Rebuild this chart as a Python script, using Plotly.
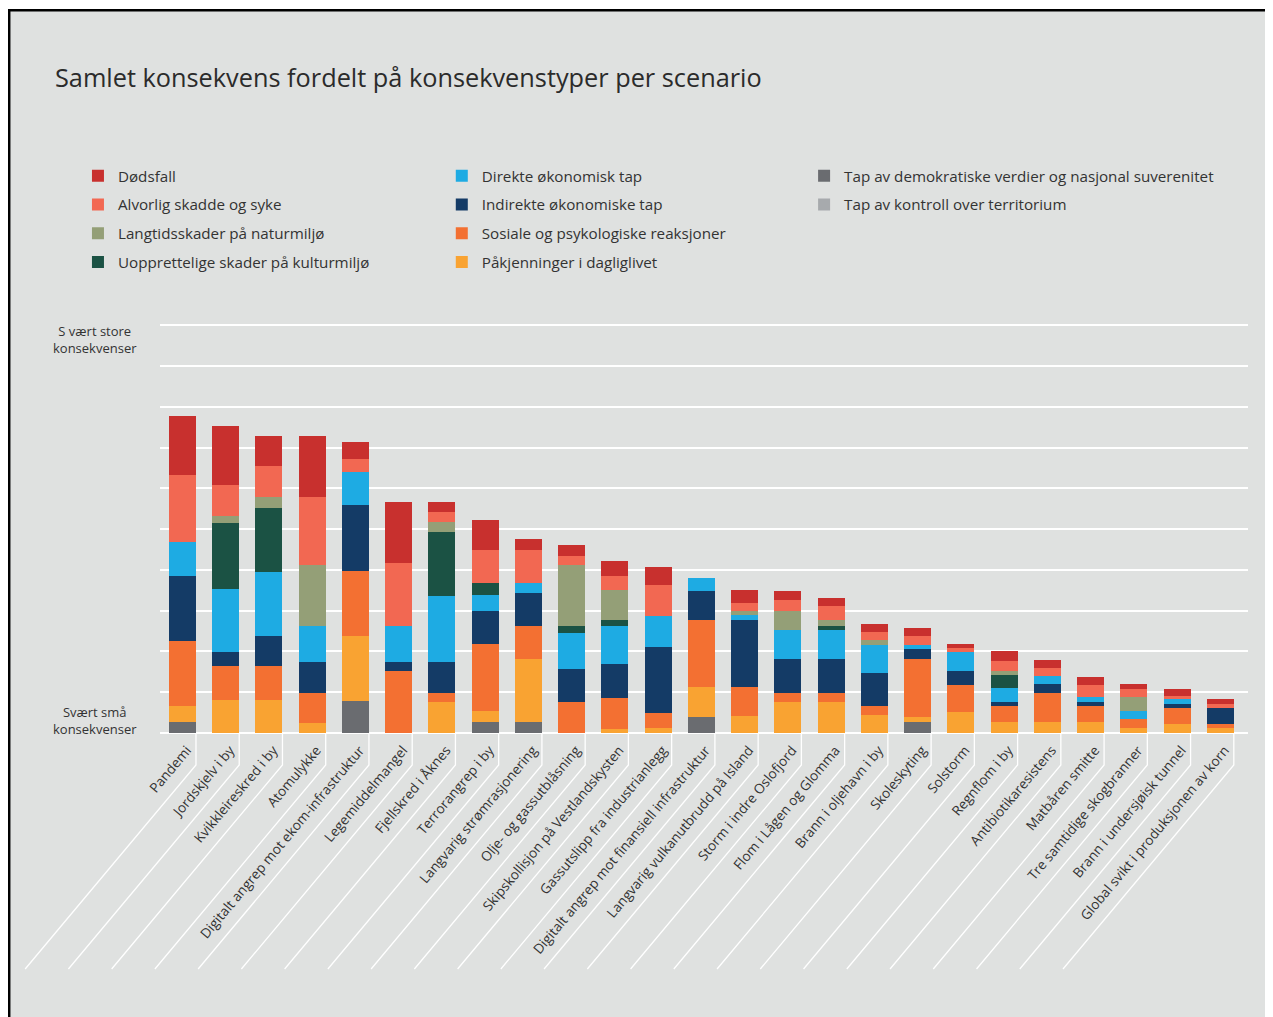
import plotly.graph_objects as go

scenarios = [
    "Pandemi", "Jordskjelv i by", "Kvikkleireskred i by", "Atomulykke",
    "Digitalt angrep mot ekom-infrastruktur", "Legemiddelmangel", "Fjellskred i Åknes",
    "Terrorangrep i by", "Langvarig strømrasjonering", "Olje- og gassutblåsning",
    "Skipskollisjon på Vestlandskysten", "Gassutslipp fra industrianlegg",
    "Digitalt angrep mot finansiell infrastruktur", "Langvarig vulkanutbrudd på Island",
    "Storm i indre Oslofjord", "Flom i Lågen og Glomma", "Brann i oljehavn i by",
    "Skoleskyting", "Solstorm", "Regnflom i by", "Antibiotikaresistens",
    "Matbåren smitte", "Tre samtidige skogbranner", "Brann i undersjøisk tunnel",
    "Global svikt i produksjonen av korn",
]

territorium = [0] * 25
demokrati = [0.28, 0, 0, 0, 0.79, 0, 0, 0.28, 0.28, 0, 0, 0, 0.40, 0, 0, 0, 0, 0.28, 0, 0, 0, 0, 0, 0, 0]
pakjenninger = [0.39, 0.81, 0.81, 0.25, 1.59, 0, 0.76, 0.27, 1.54, 0, 0.11, 0.13, 0.73, 0.42, 0.76, 0.76, 0.45, 0.12, 0.52, 0.28, 0.28, 0.28, 0.13, 0.23, 0.13]
sosiale = [1.59, 0.83, 0.83, 0.73, 1.59, 1.52, 0.22, 1.64, 0.81, 0.76, 0.76, 0.37, 1.64, 0.71, 0.22, 0.22, 0.22, 1.42, 0.66, 0.39, 0.71, 0.39, 0.22, 0.39, 0.10]
indirekte = [1.58, 0.34, 0.73, 0.76, 1.61, 0.22, 0.76, 0.81, 0.81, 0.81, 0.83, 1.61, 0.71, 1.64, 0.83, 0.83, 0.81, 0.24, 0.34, 0.10, 0.20, 0.10, 0, 0.10, 0.39]
direkte = [0.84, 1.54, 1.59, 0.88, 0.81, 0.89, 1.61, 0.39, 0.23, 0.88, 0.93, 0.76, 0.32, 0.12, 0.71, 0.71, 0.68, 0.10, 0.46, 0.34, 0.20, 0.12, 0.20, 0.12, 0]
kulturmiljo = [0, 1.64, 1.56, 0, 0, 0, 1.59, 0.29, 0, 0.17, 0.15, 0, 0, 0, 0, 0.10, 0, 0, 0, 0.32, 0, 0, 0, 0, 0]
naturmiljo = [0, 0.17, 0.27, 1.49, 0, 0, 0.24, 0, 0, 1.49, 0.73, 0, 0, 0.10, 0.46, 0.15, 0.12, 0, 0, 0.10, 0, 0, 0.34, 0, 0]
alvorlig = [1.65, 0.76, 0.76, 1.68, 0.33, 1.55, 0.24, 0.81, 0.82, 0.24, 0.34, 0.75, 0, 0.20, 0.29, 0.34, 0.20, 0.22, 0.10, 0.24, 0.20, 0.29, 0.20, 0.07, 0.10]
dodsfall = [1.44, 1.44, 0.73, 1.49, 0.41, 1.49, 0.24, 0.73, 0.27, 0.27, 0.37, 0.46, 0, 0.32, 0.22, 0.20, 0.20, 0.20, 0.10, 0.24, 0.20, 0.20, 0.10, 0.17, 0.12]

# (name, values, colour, legend column, legend rank) in stacking order bottom -> top
series = [
    ("Tap av kontroll over territorium", territorium, "#a7aaad", "legend3", 10),
    ("Tap av demokratiske verdier og nasjonal suverenitet", demokrati, "#6a6c70", "legend3", 9),
    ("Påkjenninger i dagliglivet", pakjenninger, "#f9a332", "legend2", 8),
    ("Sosiale og psykologiske reaksjoner", sosiale, "#f37032", "legend2", 7),
    ("Indirekte økonomiske tap", indirekte, "#143b66", "legend2", 6),
    ("Direkte økonomisk tap", direkte, "#1eabe3", "legend2", 5),
    ("Uopprettelige skader på kulturmiljø", kulturmiljo, "#1b5244", "legend", 4),
    ("Langtidsskader på naturmiljø", naturmiljo, "#949f77", "legend", 3),
    ("Alvorlig skadde og syke", alvorlig, "#f26852", "legend", 2),
    ("Dødsfall", dodsfall, "#c8302e", "legend", 1),
]

FONT = "Open Sans"
TXT = "#333333"
BG = "#dfe1e0"

xpos = list(range(len(scenarios)))
BAR_W = 0.624
XR = (-0.52, 24.64)
PLOT_W = 1088
PLOT_H = 409
YMAX = 10.03

fig = go.Figure()
for name, vals, col, leg, rank in series:
    fig.add_trace(go.Bar(
        x=xpos, y=vals, name=name, width=BAR_W,
        marker=dict(color=col, line=dict(width=0)),
        legend=leg, legendgroup=name, legendrank=rank,
    ))

def xp(v):
    return (v - XR[0]) / (XR[1] - XR[0])

shapes = []
# frame / background
shapes.append(dict(type="rect", xref="paper", yref="paper", layer="below",
                   x0=-(160 - 9.2) / PLOT_W, x1=1.05, y0=-0.75, y1=(733 - 10.2) / PLOT_H,
                   fillcolor=BG, line=dict(color="black", width=2.5)))
# category dividers below the axis
for i in xpos:
    xe = i + BAR_W / 2
    path = "M {:.5f},0 L {:.5f},{:.4f} L {:.5f},{:.4f}".format(
        xp(xe), xp(xe), -0.078, xp(xe - 3.95), -0.577)
    shapes.append(dict(type="path", xref="paper", yref="paper", path=path,
                       line=dict(color="white", width=1.3), layer="above"))

legend_common = dict(
    orientation="v", traceorder="grouped", tracegroupgap=6,
    font=dict(family=FONT, size=15.2, color=TXT), bgcolor="rgba(0,0,0,0)",
    xanchor="left", yanchor="top", y=1.4025,
)

fig.update_layout(
    width=1265, height=1009, autosize=False,
    margin=dict(l=152, r=25, t=316, b=284),
    paper_bgcolor="white", plot_bgcolor="rgba(0,0,0,0)",
    barmode="stack", bargap=0,
    font=dict(family=FONT, color=TXT),
    title=dict(text="Samlet konsekvens fordelt på konsekvenstyper per scenario",
               x=47 / 1265, xanchor="left", xref="container",
               y=1 - 70 / 1009, yanchor="middle", yref="container",
               font=dict(family=FONT, size=25.3, color="#2b2b2b")),
    legend=dict(legend_common, x=-0.0754),
    legend2=dict(legend_common, x=0.259),
    legend3=dict(legend_common, x=0.592),
    xaxis=dict(range=list(XR), tickmode="array",
               tickvals=[i + 0.1 for i in xpos], ticktext=scenarios,
               tickangle=-50, ticks="outside", ticklen=3, tickcolor="rgba(0,0,0,0)",
               showgrid=False, zeroline=False,
               showline=False, tickfont=dict(family=FONT, size=13.6, color=TXT)),
    yaxis=dict(range=[0, YMAX], dtick=1, showticklabels=False, ticks="",
               showgrid=True, gridcolor="white", gridwidth=1.5,
               zeroline=True, zerolinecolor="white", zerolinewidth=1.5,
               showline=False),
    shapes=shapes,
    annotations=[
        dict(text="S vært store<br>konsekvenser", xref="paper", yref="y",
             x=(95 - 160) / PLOT_W, y=9.65, xanchor="center", yanchor="middle",
             showarrow=False, align="center",
             font=dict(family=FONT, size=13, color=TXT)),
        dict(text="Svært små<br>konsekvenser", xref="paper", yref="y",
             x=(95 - 160) / PLOT_W, y=0.3, xanchor="center", yanchor="middle",
             showarrow=False, align="center",
             font=dict(family=FONT, size=13, color=TXT)),
    ],
)

fig.write_html("out.html")
